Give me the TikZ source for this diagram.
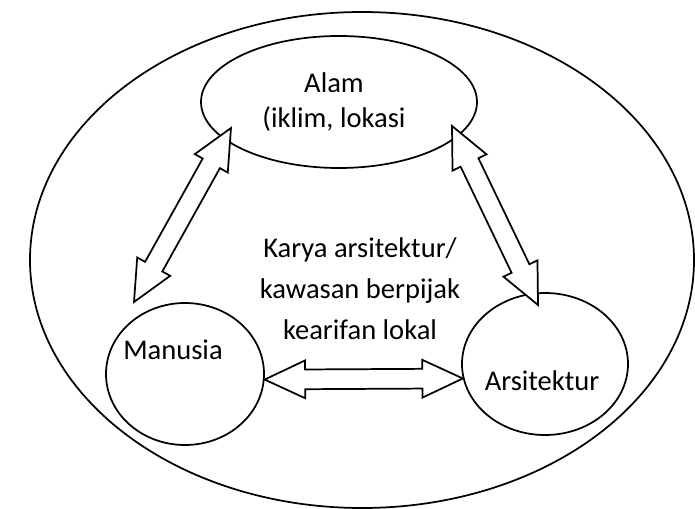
\documentclass[tikz,border=0pt]{standalone}
\usepackage{fontspec}
\setmainfont{Carlito}
\usetikzlibrary{shapes.geometric,shapes.arrows,calc}

\tikzset{
  bubble/.style={draw, ellipse, line width=1.3pt, inner sep=0pt},
  dblarrow/.style={draw, double arrow, fill=white, line width=1.3pt, inner sep=0pt, outer sep=0pt,
    double arrow head extend=6.75pt, double arrow tip angle=50},
  txt/.style={font=\fontsize{21.4pt}{26.25pt}\selectfont, align=center, inner sep=0pt}
}

\newcommand{\twoway}[3]{%
  \path let \p1=($(#3)-(#2)$), \n1={atan2(\y1,\x1)}, \n2={veclen(\x1,\y1)} in
    node [dblarrow, rotate=\n1, minimum height=\n2] (#1) at ($(#2)!0.5!(#3)$) {\rule{0pt}{13.5pt}};}

\begin{document}
\begin{tikzpicture}[x=0.75pt, y=-0.75pt]
  \useasboundingbox (0,0) rectangle (695,509);

  \node [bubble, minimum width=498pt, minimum height=372pt] (world) at (362,260) {};

  \node [bubble, minimum width=207pt, minimum height=99pt] (alam) at (339,102) {};
  \node [bubble, minimum width=118.5pt, minimum height=106.5pt] (manusia) at (185,374) {};
  \node [bubble, minimum width=124.5pt, minimum height=106.5pt] (arsitektur) at (545,364) {};

  \node [txt, anchor=base] (alam-txt) at (334,128) {Alam\\(iklim, lokasi};
  \node [txt, anchor=base] (manusia-txt) at (173,359) {Manusia};
  \node [txt, anchor=base] (arsitektur-txt) at (542,390) {Arsitektur};
  \node [txt, anchor=base, font=\fontsize{21.4pt}{30.75pt}\selectfont] (karya) at (360,339)
    {Karya arsitektur/\\kawasan berpijak\\kearifan lokal};

  \coordinate (alam-l) at (231,128);
  \coordinate (manusia-t) at (134,302);
  \coordinate (alam-r) at (452,126);
  \coordinate (arsitektur-t) at (538,305);

  \twoway{arrow-l}{alam-l}{manusia-t}
  \twoway{arrow-r}{alam-r}{arsitektur-t}
  \twoway{arrow-b}{manusia.-4}{arsitektur.190}
\end{tikzpicture}
\end{document}
